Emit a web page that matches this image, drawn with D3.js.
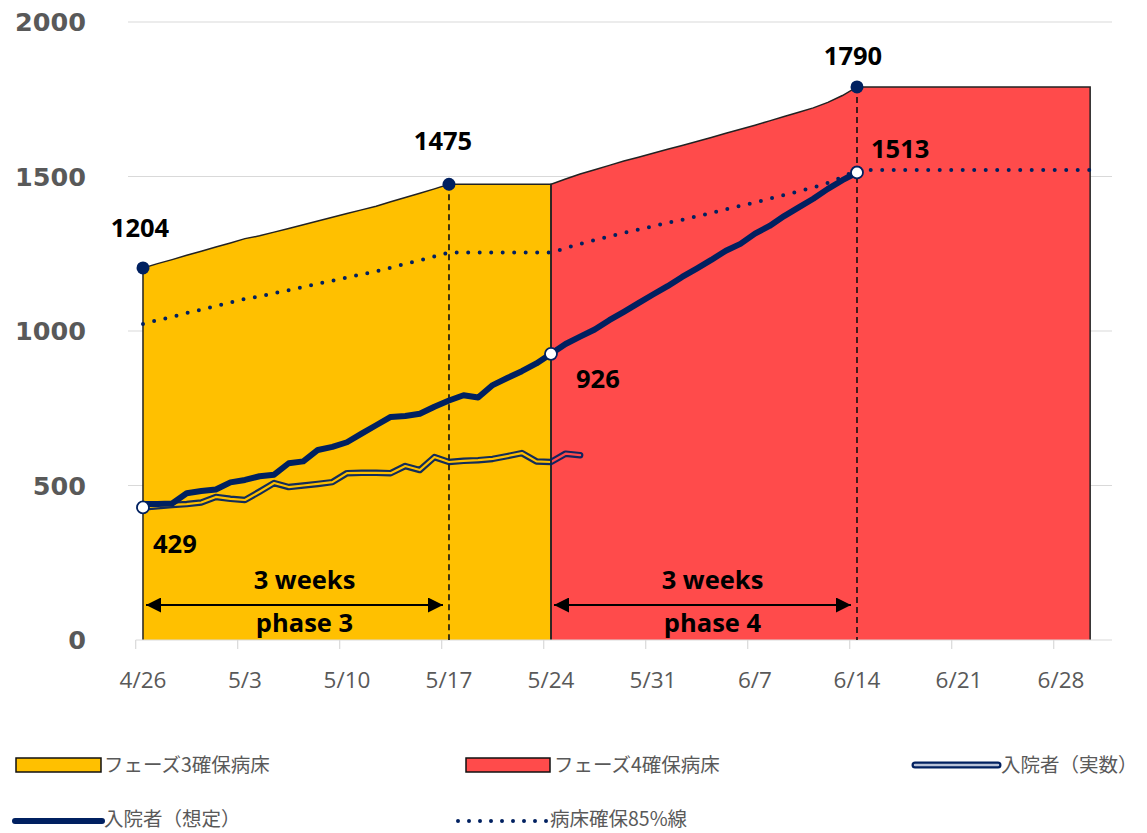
<!DOCTYPE html>
<html><head><meta charset="utf-8">
<script src="https://cdn.jsdelivr.net/npm/d3@7/dist/d3.min.js"></script>
<style>
body{margin:0;background:#fff;}
svg{display:block;}
</style></head>
<body><svg id="c" width="1147" height="833"></svg>
<script>
// ---- data (day index 0 = 4/26) ----
const tickLabels = ["4/26","5/3","5/10","5/17","5/24","5/31","6/7","6/14","6/21","6/28"];
const tickDays   = [0,7,14,21,28,35,42,49,56,63];
const yTicks = [0,500,1000,1500,2000];

// フェーズ3確保病床 : days 0..28
const phase3Start = 0;
const phase3Beds = [1204,1218,1231,1245,1258,1272,1285,1299,1308,1320,1332,1344,1356,1368,1380,1392,1404,1418,1432,1446,1460,1475,1475,1475,1475,1475,1475,1475,1475];
// フェーズ4確保病床 : days 28..65
const phase4Start = 28;
const phase4Beds = [1475,1492,1508,1522,1536,1550,1562,1575,1588,1600,1613,1626,1640,1653,1666,1680,1694,1708,1722,1740,1762,1790,
  1790,1790,1790,1790,1790,1790,1790,1790,1790,1790,1790,1790,1790,1790,1790,1790];
// 病床確保85%線 : days 0..65
const line85Start = 0;
const line85 = [1023,1035,1046,1058,1069,1081,1092,1104,1112,1122,1132,1142,1153,1163,1173,1183,1193,1205,1217,1229,1241,1254,1254,1254,1254,1254,1254,1254,1254,
  1268,1282,1294,1306,1318,1328,1339,1350,1360,1371,1382,1394,1405,1416,1428,1440,1452,1464,1479,1498,1521,
  1521,1521,1521,1521,1521,1521,1521,1521,1521,1521,1521,1521,1521,1521,1521,1521];
// 入院者(想定) : days 0..49
const predStart = 0;
const predicted = [440,440,442,475,482,487,510,518,530,535,572,578,615,625,640,668,695,722,725,732,755,775,792,785,825,848,870,895,926,
  958,982,1005,1035,1062,1090,1118,1145,1175,1202,1230,1260,1282,1315,1340,1372,1400,1428,1460,1488,1513];
// 入院者(実数) : days 0..30
const actualStart = 0;
const actual = [429,433,437,440,445,463,457,453,480,508,495,500,505,511,540,541,541,540,563,550,592,576,580,582,586,595,605,578,576,603,598];

// labelled points
const bedMarks = [{d:0,v:1204},{d:21,v:1475},{d:49,v:1790}];
const openMarks = [{d:0,v:429},{d:28,v:926},{d:49,v:1513}];
const phaseArrows = [{from:0,to:21,top:"3 weeks",bottom:"phase 3"},{from:28,to:49,top:"3 weeks",bottom:"phase 4"}];
const legendItems = ["フェーズ3確保病床","フェーズ4確保病床","入院者（実数）","入院者（想定）","病床確保85%線"];

// ---- drawing ----
const svg = d3.select("#c");
const NAVY="#002060", YEL="#FFC000", RED="#FF4B4B", GREY="#595959";
const x = d3.scaleLinear().domain([-0.5,66.5]).range([135.7,1112]);
const y = d3.scaleLinear().domain([0,2000]).range([640,22]);

const toPts = (arr,start)=>arr.map((v,i)=>({d:start+i,v}));

// gridlines
svg.append("g").selectAll("line").data(yTicks.filter(t=>t>0)).join("line")
  .attr("x1",128).attr("x2",1112).attr("y1",d=>y(d)).attr("y2",d=>y(d))
  .attr("stroke","#d9d9d9").attr("stroke-width",1.2);
// y labels
svg.append("g").selectAll("text").data(yTicks).join("text")
  .attr("x",86).attr("y",d=>y(d)).attr("dy","0.36em").attr("text-anchor","end")
  .attr("font-family","DejaVu Sans").attr("font-weight","bold").attr("font-size",25.5)
  .attr("fill",GREY).text(d=>d);

// areas
const area = d3.area().x(p=>x(p.d)).y0(y(0)).y1(p=>y(p.v));
const p3 = toPts(phase3Beds,phase3Start), p4 = toPts(phase4Beds,phase4Start);
function outline(pts){ // closed outline
  return [{d:pts[0].d,v:0},...pts,{d:pts[pts.length-1].d,v:0}];
}
const lineGen = d3.line().x(p=>x(p.d)).y(p=>y(p.v));
svg.append("path").attr("d",area(p3)).attr("fill",YEL);
svg.append("path").attr("d",area(p4)).attr("fill",RED);
svg.append("path").attr("d",lineGen(outline(p3))).attr("fill","none").attr("stroke","#222").attr("stroke-width",1.5);
svg.append("path").attr("d",lineGen(outline(p4))).attr("fill","none").attr("stroke","#222").attr("stroke-width",1.5);

// x axis
svg.append("line").attr("x1",x(-0.5)).attr("x2",x(66.5)).attr("y1",y(0)).attr("y2",y(0)).attr("stroke","#d9d9d9").attr("stroke-width",1.2);
svg.append("g").selectAll("line").data(tickDays).join("line")
  .attr("x1",d=>x(d-0.5)).attr("x2",d=>x(d-0.5)).attr("y1",y(0)).attr("y2",y(0)+9)
  .attr("stroke","#d9d9d9").attr("stroke-width",1.2);
svg.append("g").selectAll("text").data(tickDays).join("text")
  .attr("x",d=>x(d)).attr("y",y(0)+48).attr("text-anchor","middle")
  .attr("font-family","Open Sans").attr("font-size",22.5).attr("fill",GREY)
  .text((d,i)=>tickLabels[i]);

// dashed verticals
svg.append("g").selectAll("line").data([bedMarks[1],bedMarks[2]]).join("line")
  .attr("x1",m=>x(m.d)).attr("x2",m=>x(m.d)).attr("y1",m=>y(m.v)).attr("y2",y(0))
  .attr("stroke","#111").attr("stroke-width",1.6).attr("stroke-dasharray","6 4");

// 85% dotted
svg.append("path").attr("d",lineGen(toPts(line85,line85Start))).attr("fill","none")
  .attr("stroke",NAVY).attr("stroke-width",4).attr("stroke-linecap","round").attr("stroke-dasharray","0 11.5");

// actual (double line via mask)
const defs = svg.append("defs");
const actualPath = lineGen(toPts(actual,actualStart));
const mask = defs.append("mask").attr("id","dbl").attr("maskUnits","userSpaceOnUse")
  .attr("x",0).attr("y",0).attr("width",1147).attr("height",833);
mask.append("rect").attr("width",1147).attr("height",833).attr("fill","white");
mask.append("path").attr("d",actualPath).attr("fill","none").attr("stroke","black").attr("stroke-width",2.2)
  .attr("stroke-linejoin","round").attr("stroke-linecap","round");
svg.append("path").attr("d",actualPath).attr("fill","none").attr("stroke",NAVY).attr("stroke-width",6.5)
  .attr("stroke-linejoin","round").attr("stroke-linecap","round").attr("mask","url(#dbl)").attr("opacity",0.92);

// predicted
svg.append("path").attr("d",lineGen(toPts(predicted,predStart))).attr("fill","none")
  .attr("stroke",NAVY).attr("stroke-width",6).attr("stroke-linejoin","round").attr("stroke-linecap","round");

// markers
svg.append("g").selectAll("circle").data(bedMarks).join("circle")
  .attr("cx",m=>x(m.d)).attr("cy",m=>y(m.v)).attr("r",6.5).attr("fill",NAVY);
svg.append("g").selectAll("circle").data(openMarks).join("circle")
  .attr("cx",m=>x(m.d)).attr("cy",m=>y(m.v)).attr("r",6).attr("fill","#fff").attr("stroke",NAVY).attr("stroke-width",1.8);

// value labels
const LBL = 25.5;
const lbl = (t,xx,yy,anchor)=>svg.append("text").attr("x",xx).attr("y",yy).attr("text-anchor",anchor)
  .attr("font-family","Open Sans").attr("font-weight","bold").attr("font-size",LBL).attr("fill","#000").text(t);
lbl(bedMarks[0].v, x(bedMarks[0].d)-3, y(bedMarks[0].v)-31, "middle");
lbl(bedMarks[1].v, x(bedMarks[1].d)-6, y(bedMarks[1].v)-34, "middle");
lbl(bedMarks[2].v, x(bedMarks[2].d)-4, y(bedMarks[2].v)-22, "middle");
lbl(openMarks[0].v, x(openMarks[0].d)+10, y(openMarks[0].v)+46, "start");
lbl(openMarks[1].v, x(openMarks[1].d)+25, y(openMarks[1].v)+34, "start");
lbl(openMarks[2].v, x(openMarks[2].d)+14, y(openMarks[2].v)-14, "start");

// arrows
defs.append("marker").attr("id","ah").attr("viewBox","0 0 10 10").attr("refX",10).attr("refY",5)
  .attr("markerWidth",15).attr("markerHeight",15).attr("markerUnits","userSpaceOnUse").attr("orient","auto-start-reverse")
  .append("path").attr("d","M0,0 L10,5 L0,10 Z").attr("fill","#000");
const ay = 605;
phaseArrows.forEach(a=>{
  const x1 = x(a.from)+3, x2 = x(a.to)-6;
  svg.append("line").attr("x1",x1).attr("x2",x2).attr("y1",ay).attr("y2",ay)
    .attr("stroke","#000").attr("stroke-width",1.8).attr("marker-start","url(#ah)").attr("marker-end","url(#ah)");
  const cx = (x1+x2)/2 + 10;
  svg.append("text").attr("x",cx).attr("y",ay-16).attr("text-anchor","middle")
    .attr("font-family","Open Sans").attr("font-weight","bold").attr("font-size",LBL).text(a.top);
  svg.append("text").attr("x",cx).attr("y",ay+27).attr("text-anchor","middle")
    .attr("font-family","Open Sans").attr("font-weight","bold").attr("font-size",LBL).text(a.bottom);
});

// legend
const lg = svg.append("g").attr("font-family","Noto Sans CJK JP").attr("font-size",19.5).attr("fill",GREY);
function legText(t,xx,yy){ lg.append("text").attr("x",xx).attr("y",yy).attr("dy","0.35em").text(t); }
// row 1
lg.append("rect").attr("x",16).attr("y",758).attr("width",85).attr("height",14).attr("fill",YEL).attr("stroke","#111").attr("stroke-width",1.5);
legText(legendItems[0],104,765);
lg.append("rect").attr("x",466).attr("y",758).attr("width",84).attr("height",14).attr("fill",RED).attr("stroke","#111").attr("stroke-width",1.5);
legText(legendItems[1],554,765);
lg.append("line").attr("x1",915).attr("x2",998).attr("y1",765).attr("y2",765).attr("stroke",NAVY).attr("stroke-width",7).attr("stroke-linecap","round");
lg.append("line").attr("x1",915).attr("x2",998).attr("y1",765).attr("y2",765).attr("stroke","#b8c2d8").attr("stroke-width",2.5).attr("stroke-linecap","round");
legText(legendItems[2],1001,765);
// row 2
lg.append("line").attr("x1",15).attr("x2",102).attr("y1",821).attr("y2",821).attr("stroke",NAVY).attr("stroke-width",6).attr("stroke-linecap","round");
legText(legendItems[3],104,819);
lg.append("line").attr("x1",458).attr("x2",548).attr("y1",821).attr("y2",821).attr("stroke",NAVY).attr("stroke-width",4).attr("stroke-linecap","round").attr("stroke-dasharray","0 11");
legText(legendItems[4],550,819);
</script></body></html>
